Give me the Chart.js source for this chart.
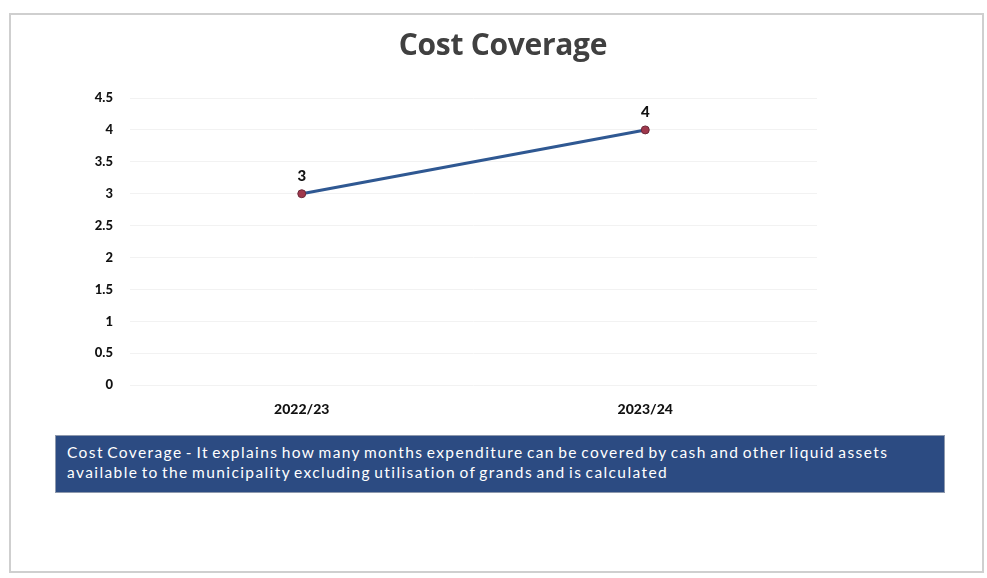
<!DOCTYPE html>
<html>
<head>
<meta charset="utf-8">
<script src="https://cdn.jsdelivr.net/npm/chart.js@4.4.1/dist/chart.umd.min.js"></script>
<style>
  html, body { margin: 0; padding: 0; background: #fff; }
  body { width: 987px; height: 578px; position: relative; overflow: hidden; font-family: Lato, "Open Sans", sans-serif; }
  #frame { position: absolute; left: 9px; top: 13px; width: 975px; height: 560px; border: 2px solid #cfcfcf; box-sizing: border-box; }
  #title { position: absolute; left: 0; width: 1006px; top: 23px; text-align: center; font-family: "Open Sans", Lato, sans-serif; font-weight: 700; font-size: 30px; color: #404040; letter-spacing: -0.3px; }
  #wrap { position: absolute; left: 0; top: 0; width: 987px; height: 578px; }
  #note { position: absolute; left: 55px; top: 435px; width: 890px; height: 58px; box-sizing: border-box; background: #2c4b82; border: 1px solid #8e99ad; color: #fff; font-family: Lato, sans-serif; font-size: 15.5px; line-height: 20px; padding: 6px 11px; letter-spacing: 1.4px; word-spacing: -2px; white-space: nowrap; }
</style>
</head>
<body>
<div id="frame"></div>
<div id="wrap"><canvas id="c"></canvas></div>
<div id="title">Cost Coverage</div>
<div id="note">Cost Coverage - It explains how many months expenditure can be covered by cash and other liquid assets<br>available to the municipality excluding utilisation of grands and is calculated</div>
<script>
// Financial years and the number of months covered
const years = ["2022/23", "2023/24"];
const monthsCovered = [3, 4];
const yTicks = [0, 0.5, 1, 1.5, 2, 2.5, 3, 3.5, 4, 4.5];

// Writes each point's value just above its marker
const valueLabels = {
  id: "valueLabels",
  afterDatasetsDraw(chart) {
    const ctx = chart.ctx;
    const meta = chart.getDatasetMeta(0);
    ctx.save();
    ctx.font = "900 15px Lato, sans-serif";
    ctx.fillStyle = "#111";
    ctx.textAlign = "center";
    ctx.textBaseline = "bottom";
    meta.data.forEach((pt, i) => {
      ctx.fillText(String(chart.data.datasets[0].data[i]), pt.x, pt.y - 10);
    });
    ctx.restore();
  }
};

new Chart(document.getElementById("c"), {
  type: "line",
  data: {
    labels: years,
    datasets: [{
      data: monthsCovered,
      borderColor: "#2f5892",
      borderWidth: 3,
      pointRadius: 4,
      pointBackgroundColor: "#a0384c",
      pointBorderColor: "#6b2a3a",
      pointBorderWidth: 1,
      tension: 0
    }]
  },
  options: {
    responsive: true,
    maintainAspectRatio: false,
    animation: false,
    layout: { padding: { left: 70, right: 170, top: 98, bottom: 152 } },
    plugins: { legend: { display: false }, tooltip: { enabled: false }, title: { display: false } },
    scales: {
      x: {
        offset: true,
        grid: { display: false },
        border: { display: false },
        ticks: { color: "#111", font: { family: "Lato, sans-serif", weight: "900", size: 14 }, padding: 8 }
      },
      y: {
        min: 0,
        max: 4.5,
        afterBuildTicks(scale) { scale.ticks = yTicks.map(v => ({ value: v })); },
        afterFit(scale) { scale.width = 60; },
        grid: { color: "#f2f2f2", drawTicks: false },
        border: { display: false },
        ticks: {
          color: "#111",
          font: { family: "Lato, sans-serif", weight: "900", size: 13 },
          padding: 17,
          callback: v => String(v)
        }
      }
    }
  },
  plugins: [valueLabels]
});
</script>
</body>
</html>
